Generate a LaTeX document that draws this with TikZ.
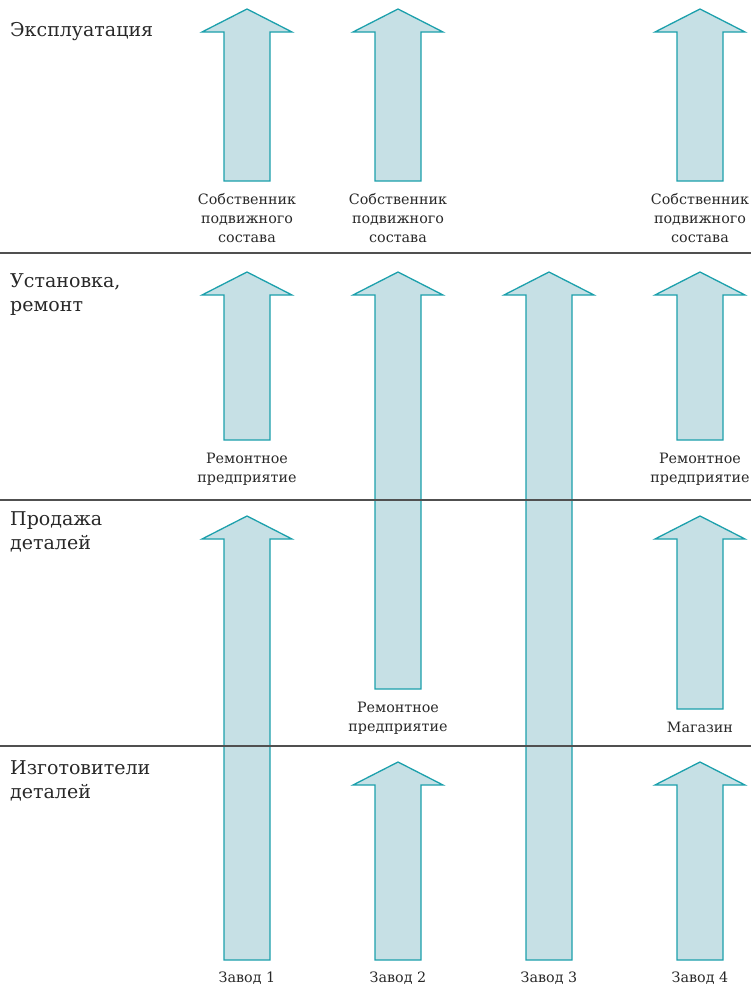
\documentclass[tikz,border=0pt]{standalone}
\usepackage{fontspec}
\usepackage{tikz}
\usetikzlibrary{positioning}
\newfontfamily\diagfont{DejaVu Serif}
\definecolor{arrowfill}{RGB}{198,224,229}
\definecolor{arrowline}{RGB}{28,160,172}
\definecolor{rowgray}{RGB}{80,80,80}
\definecolor{textgray}{RGB}{40,40,40}

\begin{document}
\begin{tikzpicture}[x=1pt, y=1pt,
    flowarrow/.style={fill=arrowfill, draw=arrowline, line width=1.3pt, line join=miter},
    rowline/.style={draw=rowgray, line width=1.6pt},
    rowlabel/.style={anchor=north west, align=left, inner sep=0pt, text=textgray,
      font=\diagfont\fontsize{19}{24.5}\selectfont},
    endlabel/.style={anchor=north, align=center, inner sep=0pt, text=textgray,
      font=\diagfont\fontsize{14.3}{19}\selectfont}
]
\useasboundingbox (0,0) rectangle (751,-985);
% Block arrows: name/centre x/tip y/bottom y (pixels of the page, y downwards).
% Shaft is 46 wide, head is 90 wide and 23 high.
\foreach \n/\x/\t/\b in {owner1/247/9/181, repair1/247/272/440, plant1/247/516/960,
    owner2/398/9/181, repair2/398/272/689, plant2/398/762/960,
    plant3/549/272/960,
    owner4/700/9/181, repair4/700/272/440, shop4/700/516/709, plant4/700/762/960} {
  \draw[flowarrow] (\x,-\t) -- (\x+45,-\t-23) -- (\x+23,-\t-23) -- (\x+23,-\b)
    -- (\x-23,-\b) -- (\x-23,-\t-23) -- (\x-45,-\t-23) -- cycle;
  \coordinate (\n) at (\x,-\b);
}

% Row separators
\draw[rowline] (0,-253) -- (751,-253);
\draw[rowline] (0,-500) -- (751,-500);
\draw[rowline] (0,-746) -- (751,-746);

% Row titles
\node[rowlabel] (use) at (10,-22) {Эксплуатация};
\node[rowlabel] (install) at (10,-273) {Установка,\\ремонт};
\node[rowlabel] (sale) at (10,-511) {Продажа\\деталей};
\node[rowlabel] (make) at (10,-760) {Изготовители\\деталей};

% Labels under the arrows
\node[endlabel, below=12pt of owner1] (owner1label) {Собственник\\подвижного\\состава};
\node[endlabel, below=12pt of owner2] (owner2label) {Собственник\\подвижного\\состава};
\node[endlabel, below=12pt of owner4] (owner4label) {Собственник\\подвижного\\состава};
\node[endlabel, below=13pt of repair1] (repair1label) {Ремонтное\\предприятие};
\node[endlabel, below=13pt of repair4] (repair4label) {Ремонтное\\предприятие};
\node[endlabel, below=13pt of repair2] (repair2label) {Ремонтное\\предприятие};
\node[endlabel, below=13pt of shop4] (shop4label) {Магазин};
\foreach \k in {1,...,4} {
  \node[endlabel, below=12pt of plant\k] (plant\k label) {Завод \k};
}
\end{tikzpicture}
\end{document}
